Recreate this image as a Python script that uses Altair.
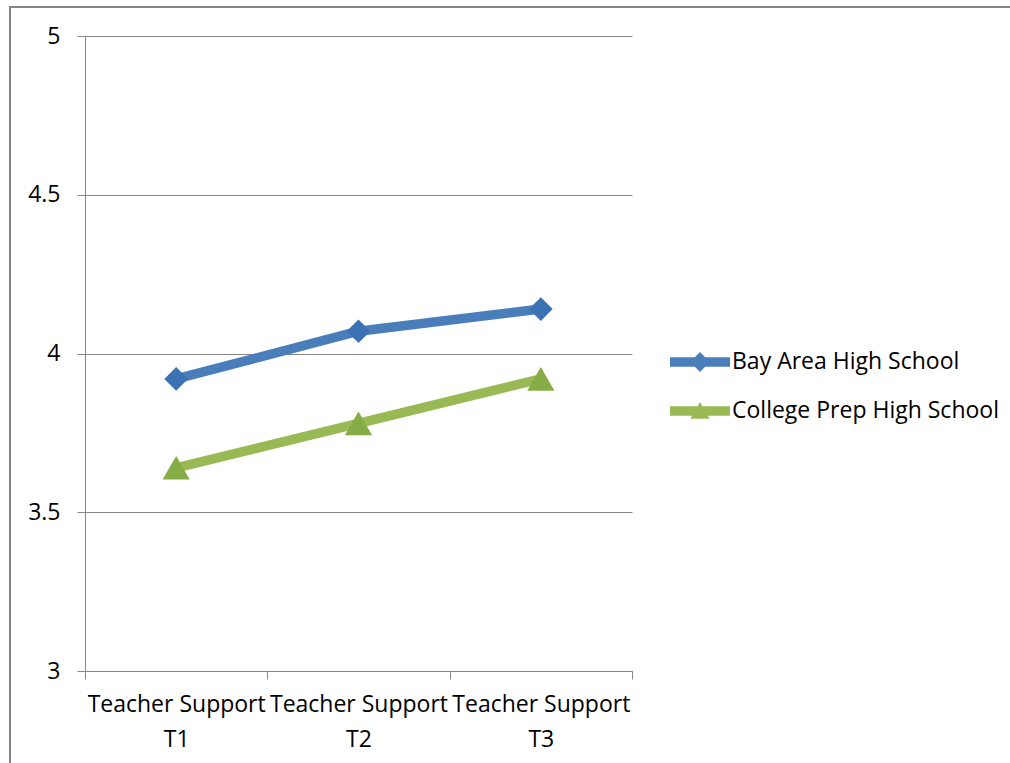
import json
import altair as alt
import pandas as pd

categories = ["Teacher Support|T1", "Teacher Support|T2", "Teacher Support|T3"]
series = ["Bay Area High School", "College Prep High School"]
bay_area = [3.92, 4.07, 4.14]
college_prep = [3.64, 3.78, 3.92]
y_ticks = [3, 3.5, 4, 4.5, 5]

line_colors = ["#4A7EBB", "#98B954"]
marker_colors = ["#3C71B4", "#86AD45"]
marker_shapes = ["diamond", "triangle-up"]
marker_sizes = [560, 740]
grey = "#868686"
FS = 23

rows = []
for i, cat in enumerate(categories):
    rows.append({"pos": i + 0.5, "category": cat, "school": series[0], "score": bay_area[i]})
    rows.append({"pos": i + 0.5, "category": cat, "school": series[1], "score": college_prep[i]})
df = pd.DataFrame(rows)

label_arr = json.dumps([c.split("|") for c in categories])
x_values = [k / 2 for k in range(0, 2 * len(categories) + 1)]

x_enc = alt.X(
    "pos:Q",
    scale=alt.Scale(domain=[0, len(categories)], nice=False, zero=False),
    axis=alt.Axis(
        values=x_values,
        title=None,
        grid=False,
        domainColor=grey,
        tickColor=grey,
        tickSize=8,
        tickOpacity={"condition": {"test": "datum.value % 1 != 0", "value": 0}, "value": 1},
        labelExpr=f"datum.value % 1 == 0 ? '' : {label_arr}[floor(datum.value)]",
        labelFontSize=FS,
        labelColor="#000000",
        labelPadding=14,
        labelLineHeight=35,
        labelBaseline="top",
        labelFlush=False,
        labelOverlap=False,
    ),
)
y_enc = alt.Y(
    "score:Q",
    scale=alt.Scale(domain=[3, 5], nice=False, zero=False),
    axis=alt.Axis(
        values=y_ticks,
        title=None,
        grid=True,
        gridColor=grey,
        domainColor=grey,
        tickColor=grey,
        tickSize=8,
        labelExpr="datum.value + ''",
        labelFontSize=FS,
        labelColor="#000000",
        labelPadding=17,
    ),
)

base = alt.Chart(df)
layers = []
for s, lc in zip(series, line_colors):
    layers.append(
        base.transform_filter(alt.datum.school == s)
        .mark_line(strokeWidth=9.5, color=lc)
        .encode(x=x_enc, y=y_enc)
    )
for s, mc, sh, sz in zip(series, marker_colors, marker_shapes, marker_sizes):
    layers.append(
        base.transform_filter(alt.datum.school == s)
        .mark_point(filled=True, shape=sh, size=sz, color=mc, opacity=1)
        .encode(x=x_enc, y=y_enc)
    )

legend_paths = [
    "M-1,-0.16H1V0.16H-1Z M0,-0.33L0.33,0L0,0.33L-0.33,0Z",
    "M-1,-0.16H1V0.16H-1Z M0,-0.3L0.32,0.26L-0.32,0.26Z",
]
leg = alt.Legend(
    title=None, orient="none", legendX=585, legendY=296,
    symbolSize=3600, symbolOpacity=1, symbolStrokeWidth=0,
    labelFontSize=FS, labelColor="#000000", labelOffset=2, rowPadding=7,
    labelLimit=400,
)
legend_layer = base.mark_point(filled=True, strokeWidth=0).encode(
    x=x_enc, y=y_enc,
    opacity=alt.value(0),
    color=alt.Color("school:N", scale=alt.Scale(domain=series, range=line_colors), legend=leg),
    shape=alt.Shape("school:N", scale=alt.Scale(domain=series, range=legend_paths), legend=leg),
)

frame = alt.Chart(alt.Data(values=[{}])).mark_rect(
    filled=False, stroke=grey, strokeWidth=2, clip=False
).encode(
    x=alt.value(-75), x2=alt.value(935), y=alt.value(-29), y2=alt.value(740)
)

chart = alt.layer(frame, *layers, legend_layer).properties(
    width=547, height=635,
    autosize=alt.AutoSizeParams(type="none"),
    padding={"left": 85, "top": 36, "right": 378, "bottom": 92},
    background="#FFFFFF",
).configure(font="Open Sans").configure_view(stroke=None)

chart.save("out.html", embed_options={"renderer": "svg", "actions": False})
